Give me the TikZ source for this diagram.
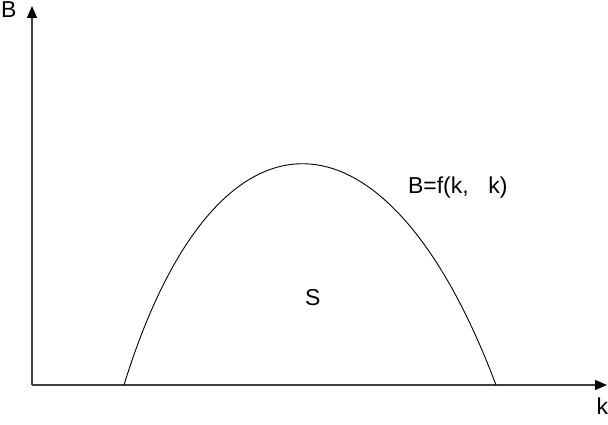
\documentclass[tikz,border=0pt]{standalone}
\usepackage{fontspec}
\setmainfont{Liberation Sans}
\usetikzlibrary{arrows.meta}
\tikzset{
  axis/.style={draw=black!75, line width=1.2pt, -{Triangle[length=12pt,width=10pt,color=black]}},
  curveline/.style={draw=black, line width=0.9pt},
  lbl/.style={inner sep=0pt, anchor=base west, font=\fontsize{23}{27}\selectfont}
}
\begin{document}
\begin{tikzpicture}[x=1pt,y=-1pt]
\useasboundingbox (0,0) rectangle (608,425);
\coordinate (O) at (32,385);
\coordinate (Ytip) at (32,6);
\coordinate (Xtip) at (607,385);
\coordinate (C0) at (124,385);
\coordinate (C1) at (496,385);
\draw[axis] (O) -- (Ytip);
\draw[axis] (O) -- (Xtip);
\draw[curveline] (C0) .. controls (215,90) and (385,90) .. (C1);
\node[lbl] (lB) at (1,17.5) {B};
\node[lbl] (lk) at (596.5,414) {k};
\node[lbl] (lS) at (305,305) {S};
\node[lbl] (lf) at (407.8,193.5) {B=f(k,\hspace{0.85em}k)};
\end{tikzpicture}
\end{document}
